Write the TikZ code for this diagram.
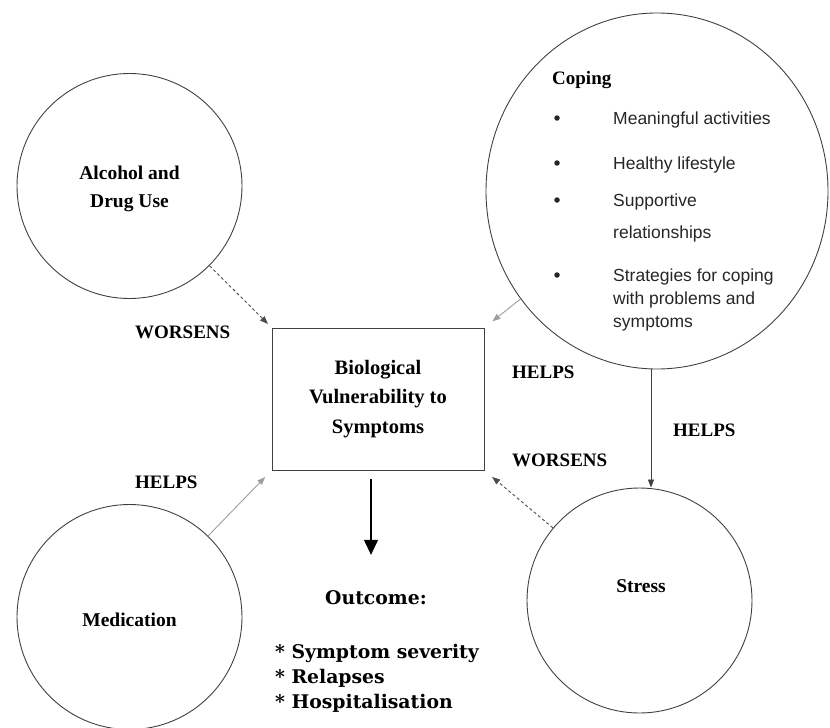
\documentclass[tikz,border=0pt]{standalone}
\usepackage{fontspec}
\newfontfamily\serifb{Liberation Serif}
\newfontfamily\sansf{Liberation Sans}
\newfontfamily\dejas{DejaVu Serif}
\usetikzlibrary{arrows.meta,shapes.geometric}
\definecolor{linegray}{gray}{0.25}
\definecolor{lightgray}{gray}{0.62}
\definecolor{dashgray}{gray}{0.3}
\tikzset{
  circ/.style={circle,draw=linegray,line width=0.9pt,minimum size=225pt,inner sep=0pt},
  ell/.style={ellipse,draw=linegray,line width=0.9pt,minimum width=342pt,minimum height=356pt,inner sep=0pt},
  vbox/.style={rectangle,draw=linegray,line width=1pt,minimum width=212pt,minimum height=142pt,inner sep=0pt,
    align=center,font=\serifb\bfseries\fontsize{20.5}{29.5}\selectfont},
  lbl/.style={font=\serifb\bfseries\fontsize{19}{23}\selectfont,inner sep=0pt,anchor=base west},
  ctxt/.style={font=\serifb\bfseries\fontsize{19.5}{28}\selectfont,inner sep=0pt,align=center},
  itm/.style={font=\sansf\fontsize{17.5}{21}\selectfont,inner sep=0pt,anchor=base west,text=black!85},
  bul/.style={circle,fill=black!85,minimum size=5.5pt,inner sep=0pt},
  otxt/.style={font=\dejas\bfseries\fontsize{18.8}{24}\selectfont,inner sep=0pt,anchor=base west},
  tipS/.style={-{Triangle[width=6pt,length=8pt]}},
  dasharr/.style={tipS,draw=dashgray,line width=0.9pt,dash pattern=on 3pt off 2.5pt},
  helparr/.style={tipS,draw=lightgray,line width=0.9pt},
  darkarr/.style={tipS,draw=linegray,line width=0.8pt},
  outarr/.style={-{Triangle[width=14pt,length=15pt]},draw=black,line width=1.2pt},
}
\begin{document}
\begin{tikzpicture}[x=1pt,y=-1pt]
\useasboundingbox (0,0) rectangle (830,728);
% shapes
\node[circ] (alc) at (129.5,186) {};
\node[circ] (med) at (129.5,617) {};
\node[circ] (str) at (639.5,600.5) {};
\node[ell] (cop) at (657,191) {};
\node[vbox] (box) at (378,399) {Biological\\Vulnerability to\\Symptoms};
% circle texts
\node[ctxt] (alct) at (129.5,189) {Alcohol and\\Drug Use};
\node[ctxt] (medt) at (129.5,620) {Medication};
\node[ctxt] (strt) at (641,586) {Stress};
% coping text
\node[lbl] (copt) at (552,84) {Coping};
\foreach \n/\yy in {b1/118,b2/163,b3/200,b4/275}{
  \node[bul] (\n) at (557,\yy) {};
}
\node[itm] (i1) at (613,124) {Meaningful activities};
\node[itm] (i2) at (613,169) {Healthy lifestyle};
\node[itm] (i3a) at (613,206) {Supportive};
\node[itm] (i3b) at (613,238) {relationships};
\node[itm] (i4a) at (613,281) {Strategies for coping};
\node[itm] (i4b) at (613,304) {with problems and};
\node[itm] (i4c) at (613,327) {symptoms};
% labels
\node[lbl] (w1) at (135,338.5) {WORSENS};
\node[lbl] (h1) at (135,488.5) {HELPS};
\node[lbl] (h2) at (512,378.5) {HELPS};
\node[lbl] (h3) at (673,436.5) {HELPS};
\node[lbl] (w2) at (512,466.5) {WORSENS};
% outcome
\node[otxt,anchor=base] (outc) at (376,604) {Outcome:};
\node[otxt] (o1) at (275,658) {* Symptom severity};
\node[otxt] (o2) at (275,683) {* Relapses};
\node[otxt] (o3) at (275,708) {* Hospitalisation};
% connectors
\coordinate (hx) at (651,0);
\coordinate (ox) at (371,0);
\draw[dasharr,shorten >=5pt] (alc) -- (box.north west);
\draw[helparr,shorten >=9pt] (med) -- (box.south west);
\draw[helparr,shorten >=10pt] (cop) -- (box.north east);
\draw[dasharr,shorten >=10pt] (str) -- (box.south east);
\draw[darkarr] (cop.south -| hx) -- (str.north -| hx);
\draw[outarr,shorten <=8pt,shorten >=35pt] (box.south -| ox) -- (outc.north -| ox);
\end{tikzpicture}
\end{document}
